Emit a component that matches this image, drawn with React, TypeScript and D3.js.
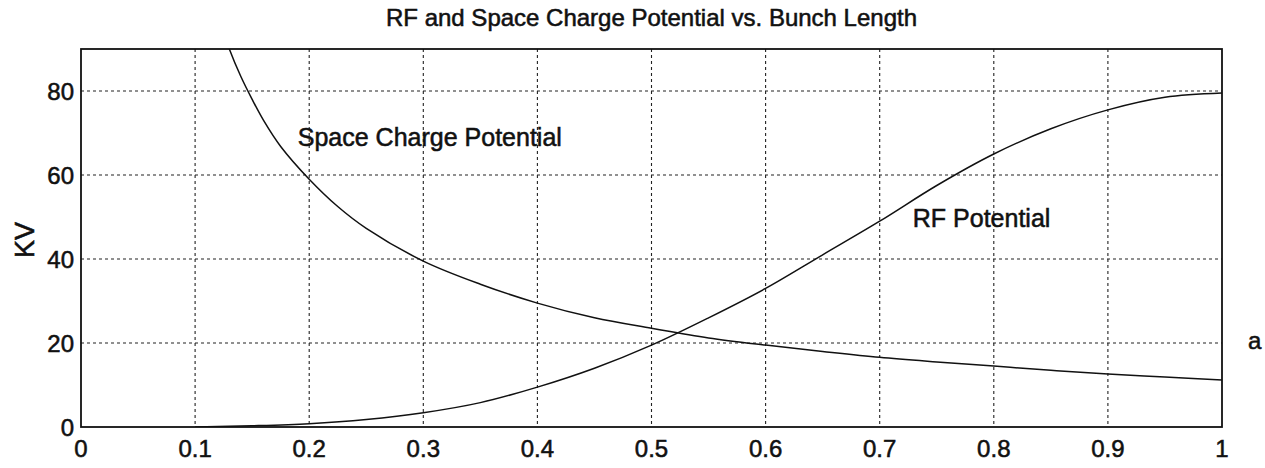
import * as d3 from 'd3'

// bunch length (x) and potentials in kV
const scX = [0.125, 0.13, 0.14, 0.15, 0.16, 0.175, 0.2, 0.225, 0.25, 0.3, 0.35, 0.4, 0.45, 0.5, 0.55, 0.6, 0.65, 0.7, 0.75, 0.8, 0.85, 0.9, 0.95, 1.0]
const scKV = [94, 90, 83.5, 78, 73, 66.8, 59, 52.5, 47.3, 39.5, 34, 29.5, 26, 23.5, 21.2, 19.5, 18, 16.6, 15.5, 14.5, 13.5, 12.6, 11.9, 11.2]

const rfX = [0.1, 0.15, 0.2, 0.25, 0.3, 0.35, 0.4, 0.45, 0.5, 0.55, 0.6, 0.65, 0.7, 0.75, 0.8, 0.85, 0.9, 0.95, 1.0]
const rfKV = [0, 0.3, 0.8, 1.8, 3.4, 5.8, 9.5, 14, 19.5, 26, 33, 41, 49, 57.5, 65, 71, 75.5, 78.5, 79.5]

const xTicks = [0, 0.1, 0.2, 0.3, 0.4, 0.5, 0.6, 0.7, 0.8, 0.9, 1]
const yTicks = [0, 20, 40, 60, 80]

const title = 'RF and Space Charge Potential vs. Bunch Length'
const yLabel = 'KV'
const scLabel = 'Space Charge Potential'
const rfLabel = 'RF Potential'

const W = 1265
const H = 468
const font = '"Liberation Sans", Arial, Helvetica, sans-serif'

export default function App() {
  const x = d3.scaleLinear().domain([0, 1]).range([81, 1222])
  const y = d3.scaleLinear().domain([0, 90]).range([427, 49])

  const line = d3.line<[number, number]>()
    .x(d => x(d[0]))
    .y(d => y(d[1]))
    .curve(d3.curveCatmullRom.alpha(0.5))

  const scPath = line(scX.map((v, i) => [v, scKV[i]] as [number, number])) ?? ''
  const rfPath = line(rfX.map((v, i) => [v, rfKV[i]] as [number, number])) ?? ''

  const [x0, x1] = x.range()
  const [y0, y1] = y.range()

  // scanned print: text looks a little heavier than plain regular weight
  const ink = { fill: '#111', stroke: '#111', strokeWidth: 0.55 }

  return (
    <svg width={W} height={H} style={{ position: 'absolute', left: 0, top: 0, background: '#fff' }}
      fontFamily={font}>
      <defs>
        <clipPath id="plot">
          <rect x={x0} y={y1} width={x1 - x0} height={y0 - y1} />
        </clipPath>
      </defs>

      <text x={(x0 + x1) / 2} y={26} textAnchor="middle" fontSize={24} {...ink}>{title}</text>

      {/* grid */}
      {xTicks.slice(1, -1).map(t => (
        <line key={'gx' + t} x1={x(t)} x2={x(t)} y1={y1} y2={y0}
          stroke="#222" strokeWidth={1.1} strokeDasharray="3,3" />
      ))}
      {yTicks.slice(1).map(t => (
        <line key={'gy' + t} x1={x0} x2={x1} y1={y(t)} y2={y(t)}
          stroke="#222" strokeWidth={1.1} strokeDasharray="3,3" />
      ))}

      {/* curves */}
      <g clipPath="url(#plot)" fill="none" stroke="#111" strokeWidth={1.5}>
        <path d={scPath} />
        <path d={rfPath} />
      </g>

      {/* frame */}
      <rect x={x0} y={y1} width={x1 - x0} height={y0 - y1} fill="none" stroke="#111" strokeWidth={1.8} />

      {/* x tick labels */}
      {xTicks.map(t => (
        <text key={'tx' + t} x={x(t)} y={457} textAnchor="middle" fontSize={24} {...ink}>
          {d3.format('~g')(t)}
        </text>
      ))}
      {/* y tick labels */}
      {yTicks.map(t => (
        <text key={'ty' + t} x={74} y={y(t) + 8.5} textAnchor="end" fontSize={24} {...ink}>
          {t}
        </text>
      ))}

      <text transform={`translate(34,240) rotate(-90)`} textAnchor="middle" fontSize={27} {...ink}>{yLabel}</text>

      <text x={x(0.19)} y={y(69) + 9} fontSize={25} {...ink}>{scLabel}</text>
      <text x={x(0.729)} y={y(49.8) + 9} fontSize={25} {...ink}>{rfLabel}</text>

      <text x={1248} y={349} fontSize={24} {...ink}>a</text>
    </svg>
  )
}
